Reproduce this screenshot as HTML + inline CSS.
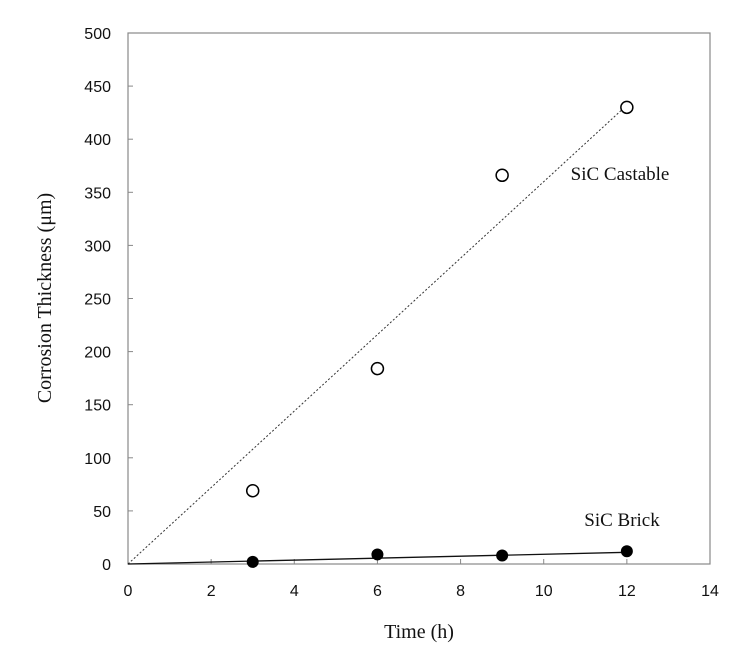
<!DOCTYPE html>
<html><head><meta charset="utf-8"><style>
body{margin:0;background:#fff;}
svg text{font-family:"Liberation Sans",sans-serif;}
</style></head><body>
<svg id="chart" width="746" height="648" xmlns="http://www.w3.org/2000/svg"></svg>
<script>
const xTicks=[0,2,4,6,8,10,12,14];
const yTicks=[0,50,100,150,200,250,300,350,400,450,500];
const times=[3,6,9,12];
const castable=[69,184,366,430];
const brick=[2,9,8,12];
const castableFitEnd=432;
const brickFitEnd=11;
const NS="http://www.w3.org/2000/svg";
const svg=document.getElementById('chart');
const L=128,R=710,T=33,B=564;
const xs=v=>L+(v-0)/14*(R-L);
const ys=v=>B-v/500*(B-T);
function mk(tag,attrs,parent){const e=document.createElementNS(NS,tag);for(const k in attrs)e.setAttribute(k,attrs[k]);(parent||svg).appendChild(e);return e;}
const frame=mk('rect',{x:L,y:T,width:R-L,height:B-T,fill:'none',stroke:'#888','stroke-width':1.2});


xTicks.forEach(v=>{
  const t=mk('line',{x1:xs(v),x2:xs(v),y1:B,y2:B-5,stroke:'#888'});
  
  
  const l=mk('text',{x:xs(v),y:B+32,'text-anchor':'middle','font-size':16,fill:'#111'});
  l.textContent=v;
  
  
});
yTicks.forEach(v=>{
  const t=mk('line',{x1:L,x2:L+5,y1:ys(v),y2:ys(v),stroke:'#888'});
  
  
  const l=mk('text',{x:L-17,y:ys(v)+6,'text-anchor':'end','font-size':16,fill:'#111'});
  l.textContent=v;
  
  
});
const f1=mk('line',{x1:xs(0),y1:ys(0),x2:xs(12),y2:ys(castableFitEnd),stroke:'#333','stroke-width':1,'stroke-dasharray':'2,2'});


const f2=mk('line',{x1:xs(0),y1:ys(0),x2:xs(12),y2:ys(brickFitEnd),stroke:'#111','stroke-width':1.3});


times.forEach((t,i)=>{
  const c=mk('circle',{cx:xs(t),cy:ys(castable[i]),r:6,fill:'#fff',stroke:'#000','stroke-width':1.5});
  
  
  const b=mk('circle',{cx:xs(t),cy:ys(brick[i]),r:6,fill:'#000'});
  
  
});
function lab(txt,x,y,size,name,rot){
  const e=mk('text',{x:x,y:y,'font-size':size,fill:'#111','text-anchor':'middle',style:'font-family:"Liberation Serif",serif'});
  if(rot)e.setAttribute('transform',`rotate(-90 ${x} ${y})`);
  e.textContent=txt;
  
  
}
lab('SiC Castable',620,180,19,'castable-label');
lab('SiC Brick',622,526,19,'brick-label');
lab('Time (h)',419,638,20,'x-axis-title');
lab('Corrosion Thickness (\u03bcm)',51,298,20,'y-axis-title',true);
</script>
</body></html>
